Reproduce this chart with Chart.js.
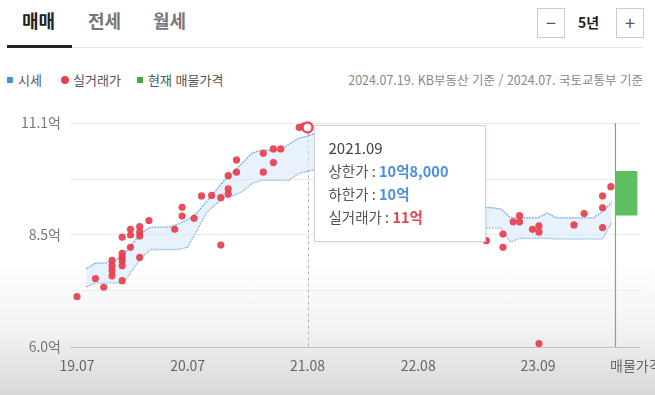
<!DOCTYPE html>
<html lang="ko">
<head>
<meta charset="utf-8">
<title>매매 시세</title>
<script src="https://cdn.jsdelivr.net/npm/chart.js@4.4.1/dist/chart.umd.min.js"></script>
<style>
  html, body { margin: 0; padding: 0; }
  body {
    width: 655px; height: 395px; overflow: hidden; position: relative;
    font-family: 'Noto Sans CJK KR', 'Noto Sans', sans-serif;
    background: linear-gradient(to bottom, #fff 0px, #fff 260px, #f3f3f3 330px, #d8d8d8 395px);
  }
  .tab { position: absolute; top: 8px; font-size: 18px; line-height: 24px; font-weight: 700; color: #777; }
  .tab.on { color: #222; }
  .underline { position: absolute; left: 7px; top: 45px; width: 65px; height: 3px; background: #222; }
  .rule { position: absolute; left: 72px; top: 47px; width: 571px; height: 1px; background: #e2e2e2; }
  .btn { position: absolute; top: 8px; width: 26px; height: 28px; border: 1px solid #ccc; background: #fff;
         color: #555; font-size: 18px; line-height: 27px; text-align: center; }
  .period { position: absolute; left: 578px; top: 12px; font-size: 14px; font-weight: 700; color: #222; }
  .legend { position: absolute; top: 71px; font-size: 13px; line-height: 18px; color: #555; }
  .sq { display: inline-block; width: 6px; height: 6px; margin-right: 5px; vertical-align: 2px; }
  .dot { display: inline-block; width: 8px; height: 8px; border-radius: 50%; margin-right: 4px; vertical-align: 1px; }
  .source { position: absolute; right: 12px; top: 71px; font-size: 12.5px; line-height: 18px; color: #888; }
  #wrap { position: absolute; left: 0; top: 100px; width: 655px; height: 295px; }
</style>
</head>
<body>
<div class="tab on" style="left:22px">매매</div>
<div class="tab" style="left:88px">전세</div>
<div class="tab" style="left:153px">월세</div>
<div class="underline"></div>
<div class="rule"></div>
<div class="btn" style="left:537px">−</div>
<div class="period">5년</div>
<div class="btn" style="left:616px">+</div>

<div class="legend" style="left:7px"><span class="sq" style="background:#4a8fdc"></span>시세</div>
<div class="legend" style="left:61px"><span class="dot" style="background:#e8414d"></span>실거래가</div>
<div class="legend" style="left:137px"><span class="sq" style="background:#3fae49"></span>현재 매물가격</div>
<div class="source">2024.07.19. KB부동산 기준 / 2024.07. 국토교통부 기준</div>

<div id="wrap"><canvas id="price"></canvas></div>

<script>
// month index 0 = 2019.07
const xTickPos = [0, 12, 25, 37, 50, 60.6];
const xTickLabels = ["19.07", "20.07", "21.08", "22.08", "23.09", "매물가격"];
const yTickPos = [6.0, 7.275, 8.55, 9.825, 11.1];
const yTickLabels = ["6.0억", "", "8.5억", "", "11.1억"];

// KB 시세 band (억)
const bandMonths = [1, 2, 3, 4, 5, 6, 7, 8, 9, 10, 11, 12, 13, 14, 15, 16, 17, 18, 19, 20,
  21, 22, 23, 24, 25, 26, 27, 28, 29, 30, 31, 32, 33, 34, 35, 36, 37, 38, 39, 40,
  41, 42, 43, 44, 45, 46, 47, 48, 49, 50, 51, 52, 53, 54, 55, 56, 57, 58];
const upperPrice = [7.78, 7.91, 7.91, 7.95, 8.09, 8.35, 8.6, 8.73, 8.73, 8.73, 8.8, 8.9, 9.05, 9.3, 9.55, 9.8, 10.0, 10.2, 10.42, 10.48,
  10.48, 10.48, 10.62, 10.75, 10.8, 10.88, 10.9, 10.9, 10.9, 10.9, 10.9, 10.85, 10.75, 10.6, 10.4, 10.1, 9.8, 9.6, 9.45, 9.35,
  9.3, 9.25, 9.2, 9.19, 9.17, 9.14, 8.95, 8.94, 8.94, 8.94, 9.05, 8.94, 8.94, 8.94, 8.94, 8.94, 9.08, 9.3];
const lowerPrice = [7.37, 7.46, 7.46, 7.46, 7.46, 7.75, 8.05, 8.22, 8.22, 8.22, 8.22, 8.28, 8.65, 9.05, 9.25, 9.4, 9.45, 9.55, 9.73, 9.8,
  9.8, 9.8, 9.8, 9.95, 10.0, 10.05, 10.1, 10.1, 10.1, 10.1, 10.1, 10.05, 9.95, 9.8, 9.6, 9.35, 9.1, 8.95, 8.85, 8.8,
  8.75, 8.72, 8.71, 8.71, 8.71, 8.71, 8.39, 8.48, 8.48, 8.48, 8.48, 8.46, 8.46, 8.46, 8.46, 8.46, 8.46, 8.85];

// 실거래가 dots
const tradeX = [0.0, 2.0, 2.9, 3.8, 3.8, 3.8, 3.8, 4.9, 4.9, 4.9, 4.9, 4.9, 4.9, 5.8, 5.8, 5.8, 6.8, 6.8, 6.8, 6.8,
  7.8, 10.6, 11.4, 11.4, 12.7, 13.5, 14.6, 15.6, 15.6, 16.4, 16.4, 16.4, 17.3, 17.3, 20.2, 20.2, 21.3, 21.3, 22.1, 24.1,
  24.6, 25.0, 44.4, 46.2, 46.2, 47.3, 48.0, 48.0, 49.4, 50.1, 50.1, 50.1, 53.9, 55.0, 57.0, 57.0, 57.0, 57.9];
const tradeY = [7.15, 7.56, 7.36, 7.97, 7.85, 7.74, 7.62, 8.5, 8.13, 8.04, 7.96, 7.85, 7.51, 8.68, 8.55, 8.27, 8.74, 8.62, 8.53, 8.04,
  8.88, 8.68, 9.18, 8.98, 8.93, 9.44, 9.45, 9.40, 8.32, 9.6, 9.48, 9.9, 10.26, 9.98, 10.41, 9.98, 10.51, 10.2, 10.51, 11.0,
  11.03, 11.0, 8.42, 8.57, 8.27, 8.85, 8.99, 8.85, 8.68, 8.76, 8.62, 6.08, 8.78, 9.04, 9.44, 9.17, 8.72, 9.65];

// 현재 매물가격
const listingX = 59.6;
const listingRange = [9.0, 10.0];
const nowLineX = 58.4;

// hovered point shown in the tooltip
const hoverTrade = 41;
const hoverBand = 24;
const hoverTitle = "2021.09";

const RED = "rgba(232, 62, 76, 0.92)";
const BLUE_TXT = "#4b8fdf";
const GREEN = "#5cbf60";

function fmtEok(v) {
  const eok = Math.floor(v + 1e-9);
  const man = Math.round((v - eok) * 10000);
  return eok + "억" + (man ? man.toLocaleString("en-US") : "");
}

const tipPlugin = {
  id: "tip",
  beforeDatasetsDraw(chart) {
    const { ctx, chartArea, scales } = chart;
    const px = scales.x.getPixelForValue(tradeX[hoverTrade]);
    ctx.save();
    ctx.strokeStyle = "#b0b0b0";
    ctx.lineWidth = 1;
    ctx.setLineDash([3, 3]);
    ctx.beginPath();
    ctx.moveTo(Math.round(px) + 0.5, scales.y.getPixelForValue(tradeY[hoverTrade]));
    ctx.lineTo(Math.round(px) + 0.5, chartArea.bottom);
    ctx.stroke();
    ctx.restore();
  },
  afterDraw(chart) {
    const { ctx, chartArea, scales } = chart;
    const px = scales.x.getPixelForValue(tradeX[hoverTrade]);
    const left = Math.round(px) + 6.5, top = chartArea.top + 2.5, w = 171, h = 116;
    ctx.save();
    ctx.shadowColor = "rgba(0,0,0,0.12)";
    ctx.shadowBlur = 5;
    ctx.fillStyle = "#fff";
    ctx.fillRect(left, top, w, h);
    ctx.shadowBlur = 0;
    ctx.strokeStyle = "#d4d4d4";
    ctx.lineWidth = 1;
    ctx.strokeRect(left, top, w, h);

    ctx.textBaseline = "middle";
    ctx.textAlign = "left";
    ctx.font = "15px 'Noto Sans CJK KR', sans-serif";
    ctx.fillStyle = "#444";
    ctx.fillText(hoverTitle, left + 14, top + 22.5);

    const rows = [
      ["상한가 : ", fmtEok(upperPrice[hoverBand]), BLUE_TXT],
      ["하한가 : ", fmtEok(lowerPrice[hoverBand]), BLUE_TXT],
      ["실거래가 : ", fmtEok(tradeY[hoverTrade]), "#e5434f"]
    ];
    rows.forEach((r, i) => {
      const y = top + 45.5 + i * 23.3;
      ctx.font = "14.5px 'Noto Sans CJK KR', sans-serif";
      ctx.fillStyle = "#555";
      ctx.fillText(r[0], left + 14, y);
      const lw = ctx.measureText(r[0]).width;
      ctx.font = "bold 14.5px 'Noto Sans CJK KR', sans-serif";
      ctx.fillStyle = r[2];
      ctx.fillText(r[1], left + 14 + lw, y);
    });
    ctx.restore();
  }
};

Chart.defaults.font.family = "'Noto Sans CJK KR', 'Noto Sans', sans-serif";

const ctx = document.getElementById("price").getContext("2d");
const priceChart = new Chart(ctx, {
  type: "line",
  data: {
    datasets: [
      {
        type: "line",
        label: "실거래가",
        data: tradeX.map((x, i) => ({ x: x, y: tradeY[i] })),
        showLine: false,
        clip: false,
        order: 1,
        pointRadius: c => (c.dataIndex === hoverTrade ? 5 : 3.6),
        pointBackgroundColor: c => (c.dataIndex === hoverTrade ? "#fff" : RED),
        pointBorderColor: RED,
        pointBorderWidth: c => (c.dataIndex === hoverTrade ? 2.5 : 0)
      },
      {
        type: "line",
        label: "시세 상한",
        data: bandMonths.map((m, i) => ({ x: m, y: upperPrice[i] })),
        borderColor: "rgba(110, 165, 230, 0.95)",
        borderWidth: 1.3,
        borderDash: [2, 1],
        backgroundColor: "rgba(214, 232, 250, 0.55)",
        fill: "+1",
        pointRadius: 0,
        tension: 0,
        order: 2
      },
      {
        type: "line",
        label: "시세 하한",
        data: bandMonths.map((m, i) => ({ x: m, y: lowerPrice[i] })),
        borderColor: "rgba(110, 165, 230, 0.95)",
        borderWidth: 1.3,
        borderDash: [2, 1],
        fill: false,
        pointRadius: 0,
        tension: 0,
        order: 3
      },
      {
        type: "line",
        label: "현재",
        data: [{ x: nowLineX, y: yTickPos[0] }, { x: nowLineX, y: yTickPos[yTickPos.length - 1] }],
        borderColor: GREEN,
        borderWidth: 1.2,
        pointRadius: 0,
        fill: false,
        order: 4
      },
      {
        type: "bar",
        label: "현재 매물가격",
        data: [{ x: listingX, y: listingRange }],
        backgroundColor: GREEN,
        barThickness: 21,
        order: 5
      }
    ]
  },
  options: {
    responsive: true,
    maintainAspectRatio: false,
    animation: false,
    events: [],
    layout: { padding: { top: 23, right: 15, left: 0, bottom: 0 } },
    plugins: {
      legend: { display: false },
      tooltip: { enabled: false }
    },
    scales: {
      x: {
        type: "linear",
        offset: false,
        min: -0.76,
        max: 61.06,
        grid: { display: false, drawTicks: false, offset: false },
        border: { display: false },
        afterBuildTicks: s => { s.ticks = xTickPos.map(v => ({ value: v })); },
        afterFit: s => { s.height = 48; s.paddingLeft = 0; s.paddingRight = 0; },
        ticks: {
          autoSkip: false,
          maxRotation: 0,
          padding: 10,
          color: "#666",
          font: { size: 14 },
          callback: (v, i) => xTickLabels[i]
        }
      },
      y: {
        min: yTickPos[0],
        max: yTickPos[yTickPos.length - 1],
        grid: {
          drawTicks: false,
          color: c => (c.index === 0 ? "#c2c2c2" : "#ebebeb"),
          lineWidth: 1
        },
        border: { display: false },
        afterBuildTicks: s => { s.ticks = yTickPos.map(v => ({ value: v })); },
        afterFit: s => { s.width = 70; },
        ticks: {
          padding: 9,
          color: "#777",
          font: { size: 14 },
          callback: (v, i) => yTickLabels[i]
        }
      }
    }
  },
  plugins: [tipPlugin]
});
</script>
</body>
</html>
